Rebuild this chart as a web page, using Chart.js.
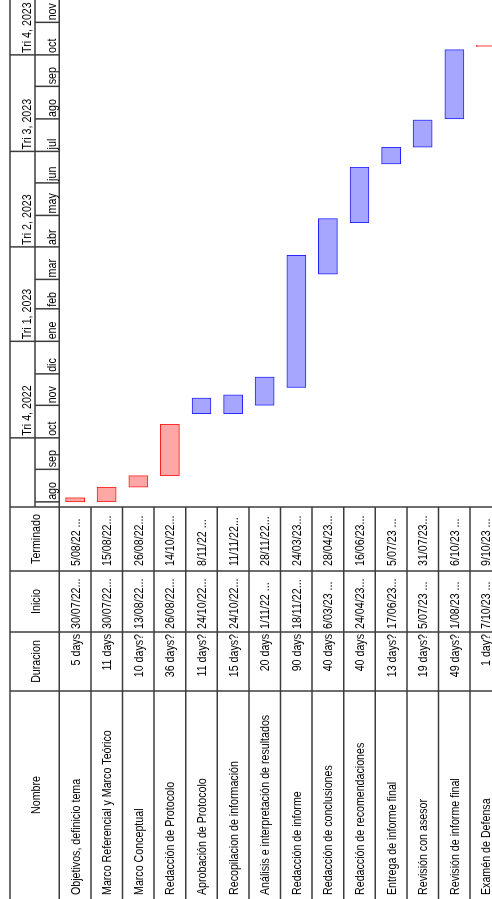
<!DOCTYPE html>
<html>
<head>
<meta charset="utf-8">
<script src="https://cdn.jsdelivr.net/npm/chart.js@4.4.1/dist/chart.umd.min.js"></script>
<style>
  html, body { margin: 0; padding: 0; background: #fff; overflow: hidden; width: 492px; height: 899px; }
  #wrap { position: absolute; left: 0; top: 0; width: 899px; height: 505px;
          transform-origin: 0 0; transform: translate(0, 899px) rotate(-90deg); }
</style>
</head>
<body>
<div id="wrap"><canvas id="gantt" width="899" height="505" style="width:899px;height:505px"></canvas></div>
<script>
// task table
const taskNames = [
  'Objetivos, definicio tema',
  'Marco Referencial y Marco Teórico',
  'Marco Conceptual',
  'Redacción de Protocolo',
  'Aprobación de Protocolo',
  'Recopilacion de información',
  'Análisis e interpretación de resultados',
  'Redacción de informe',
  'Redacción de conclusiones',
  'Redacción de recomendaciones',
  'Entrega de informe final',
  'Revisión con asesor',
  'Revisión de informe final',
  'Examén de Defensa'
]
const durations = ['5 days', '11 days', '10 days?', '36 days?', '11 days?', '15 days?', '20 days',
  '90 days', '40 days', '40 days', '13 days?', '19 days?', '49 days?', '1 day?']
const startLabels = ['30/07/22...', '30/07/22...', '13/08/22...', '26/08/22...', '24/10/22...', '24/10/22...',
  '1/11/22 ...', '18/11/22...', '6/03/23 ...', '24/04/23...', '17/06/23...', '5/07/23 ...', '1/08/23 ...', '7/10/23 ...']
const endLabels = ['5/08/22 ...', '15/08/22...', '26/08/22...', '14/10/22...', '8/11/22 ...', '11/11/22...',
  '28/11/22...', '24/03/23...', '28/04/23...', '16/06/23...', '5/07/23 ...', '31/07/23...', '6/10/23 ...', '9/10/23 ...']

// bars as drawn on the timeline
const barStarts = ['2022-08-01', '2022-08-01', '2022-08-15', '2022-08-26', '2022-10-24', '2022-10-24', '2022-11-01',
  '2022-11-18', '2023-03-06', '2023-04-24', '2023-06-19', '2023-07-05', '2023-08-01', '2023-10-09']
const barEnds = ['2022-08-05', '2022-08-15', '2022-08-26', '2022-10-14', '2022-11-08', '2022-11-11', '2022-11-28',
  '2023-03-24', '2023-04-28', '2023-06-16', '2023-07-05', '2023-07-31', '2023-10-06', '2023-10-10']
const critical = [1, 1, 1, 1, 0, 0, 0, 0, 0, 0, 0, 0, 0, 1]

// timescale labels (months from jul 2022, quarters from Q3 2022)
const monthLabels = ['jul', 'ago', 'sep', 'oct', 'nov', 'dic', 'ene', 'feb', 'mar', 'abr', 'may', 'jun',
  'jul', 'ago', 'sep', 'oct', 'nov', 'dic']
const quarterLabels = ['Tri 3, 2022', 'Tri 4, 2022', 'Tri 1, 2023', 'Tri 2, 2023', 'Tri 3, 2023', 'Tri 4, 2023']

// visible range, days from 1 sep 2022
const viewFrom = -35.9
const viewTo = 447.3

const base = Date.UTC(2022, 8, 1)
const dayNum = iso => (Date.parse(iso) - base) / 864e5
const dayOf = (y, m) => (Date.UTC(y, m, 1) - base) / 864e5

const colEdges = [208, 267, 328, 392]
const rowTop0 = 59.3
const rowH = 31.6
const canvasH = 505

function txt(ctx, s, x, y, align) {
  ctx.save()
  ctx.translate(x, y)
  ctx.scale(0.82, 1)
  ctx.textAlign = align
  ctx.fillText(s, 0, 0)
  ctx.restore()
}

const tablePlugin = {
  id: 'ganttTable',
  afterDraw(chart) {
    const ctx = chart.ctx
    const xs = chart.scales.x
    const ys = chart.scales.y
    const area = chart.chartArea
    const W = chart.width
    const step = ys.getPixelForValue(1) - ys.getPixelForValue(0)
    ctx.save()
    ctx.strokeStyle = '#3c3c3c'
    ctx.lineWidth = 1.5
    const hl = (x1, x2, y) => { ctx.beginPath(); ctx.moveTo(x1, y); ctx.lineTo(x2, y); ctx.stroke() }
    const vl = (x, y1, y2) => { ctx.beginPath(); ctx.moveTo(x, y1); ctx.lineTo(x, y2); ctx.stroke() }

    hl(0, W, 10)
    hl(0, W, area.top)
    hl(area.left, W, 35)
    for (let k = 1; k <= taskNames.length; k++) hl(0, area.left, area.top + k * step)
    colEdges.forEach(c => vl(c, 10, chart.height))

    ctx.fillStyle = '#000'
    ctx.font = "13px 'Liberation Sans', Arial, sans-serif"
    ctx.textBaseline = 'alphabetic'

    // month tier
    monthLabels.forEach((m, i) => {
      const d = dayOf(2022, 6 + i)
      if (d < viewFrom) return
      const px = xs.getPixelForValue(d)
      if (px > W) return
      vl(px, 35, area.top)
      txt(ctx, m, px + 2, 55.5, 'left')
    })
    // quarter tier
    quarterLabels.forEach((q, i) => {
      const d = dayOf(2022, 6 + i * 3)
      if (d < viewFrom) return
      const px = xs.getPixelForValue(d)
      if (px > W) return
      vl(px, 10, 35)
      txt(ctx, q, px + 2, 31, 'left')
    })

    // table headers
    txt(ctx, 'Nombre', 104, 40, 'center')
    txt(ctx, 'Duracion', (colEdges[0] + colEdges[1]) / 2, 40, 'center')
    txt(ctx, 'Inicio', (colEdges[1] + colEdges[2]) / 2, 40, 'center')
    txt(ctx, 'Terminado', (colEdges[2] + colEdges[3]) / 2, 40, 'center')

    // table rows
    taskNames.forEach((n, i) => {
      const cy = ys.getPixelForValue(i) + 4.5
      txt(ctx, n, 4, cy, 'left')
      txt(ctx, durations[i], colEdges[1] - 2, cy, 'right')
      txt(ctx, startLabels[i], colEdges[1] + 3, cy, 'left')
      txt(ctx, endLabels[i], colEdges[2] + 5, cy, 'left')
    })
    ctx.restore()
  }
}

const barData = {
  labels: taskNames,
  datasets: [{
    data: barStarts.map((s, i) => [dayNum(s), dayNum(barEnds[i])]),
    backgroundColor: critical.map(c => c ? 'rgb(255,166,166)' : 'rgb(166,166,255)'),
    borderColor: critical.map(c => c ? 'rgb(255,30,30)' : 'rgb(36,36,255)'),
    borderWidth: 1,
    borderSkipped: false,
    barThickness: 19
  }]
}

const ganttConfig = {
  type: 'bar',
  data: barData,
  options: {
    indexAxis: 'y',
    responsive: false,
    animation: false,
    layout: {
      padding: { left: colEdges[3], right: 0, top: rowTop0, bottom: canvasH - rowTop0 - rowH * taskNames.length }
    },
    plugins: {
      legend: { display: false },
      tooltip: { enabled: false },
      title: { display: false }
    },
    scales: {
      x: { type: 'linear', min: viewFrom, max: viewTo, display: false },
      y: { display: false, offset: true }
    }
  },
  plugins: [tablePlugin]
}

const ganttChart = new Chart(document.getElementById('gantt'), ganttConfig)
</script>
</body>
</html>
